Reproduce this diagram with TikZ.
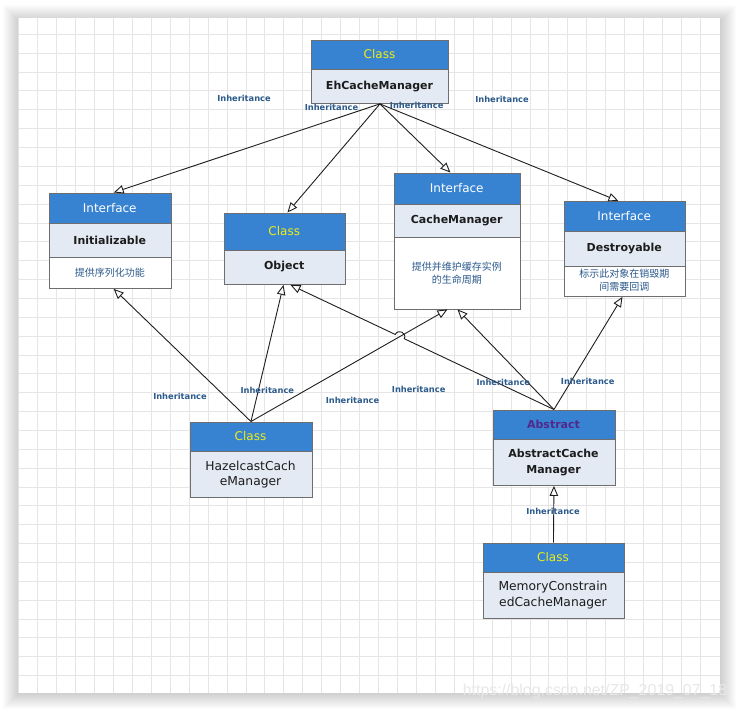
\documentclass[tikz,border=0pt]{standalone}
\usepackage{fontspec}
\setmainfont{DejaVu Sans}
\newfontfamily\cjkf{Noto Sans CJK SC}
\newfontfamily\wmfont{Liberation Sans}
\usetikzlibrary{arrows.meta,calc,intersections}
\definecolor{hdrc}{RGB}{55,131,210}
\definecolor{bodyc}{RGB}{227,234,244}
\definecolor{brdc}{RGB}{110,110,110}
\definecolor{yelc}{RGB}{238,238,20}
\definecolor{purc}{RGB}{82,40,140}
\definecolor{lblc}{RGB}{44,90,140}
\definecolor{txtc}{RGB}{28,28,28}
\definecolor{gridc}{RGB}{229,229,229}
\definecolor{edgec}{RGB}{30,30,30}
\definecolor{wmc}{RGB}{232,232,232}
\begin{document}
\begin{tikzpicture}[x=1pt,y=-1pt,
  boxframe/.style={draw=brdc, line width=0.9pt, inner sep=0pt, anchor=north west},
  sepline/.style={draw=brdc, line width=0.9pt},
  hdrtext/.style={font=\fontsize{12}{14}\selectfont, inner sep=0pt},
  abshdr/.style={font=\bfseries\fontsize{11}{13}\selectfont, text=purc, inner sep=0pt},
  boldname/.style={font=\bfseries\fontsize{11}{13}\selectfont, text=txtc, inner sep=0pt},
  regname/.style={font=\fontsize{12.3}{15}\selectfont, text=txtc, align=center, inner sep=0pt},
  absname/.style={font=\bfseries\fontsize{11}{16}\selectfont, text=txtc, align=center, inner sep=0pt},
  desc/.style={font=\cjkf\fontsize{10}{12.7}\selectfont, text=lblc, align=center, inner sep=0pt},
  lbl/.style={font=\bfseries\fontsize{8.3}{10}\selectfont, text=lblc, inner sep=0pt},
  inh/.style={draw=edgec, line width=0.9pt, -{Triangle[open, length=10pt, width=8.5pt]}},
  gridline/.style={draw=gridc, line width=0.8pt}
]
\useasboundingbox (0,0) rectangle (738,712);
% shadow
\foreach \r in {1,...,16} {
  \fill[black, opacity=0.011] (18.8-\r,17.7-\r+3) rectangle (719.5+\r,692.5+\r);
}
% canvas
\fill[white] (18.8,17.7) rectangle (719.5,692.5);
\foreach \k in {0,...,36} {
  \draw[gridline] (18.8+18.93*\k,17.7) -- (18.8+18.93*\k,692.5);
}
\foreach \k in {0,...,34} {
  \draw[gridline] (18.8,34.3+18.86*\k) -- (719.5,34.3+18.86*\k);
}

% ---- box fills ----
\fill[hdrc] (311,39.5) rectangle (448,69.5);
\fill[bodyc] (311,69.5) rectangle (448,103);
\fill[hdrc] (48.5,192.5) rectangle (171,223.5);
\fill[bodyc] (48.5,223.5) rectangle (171,257);
\fill[white] (48.5,257) rectangle (171,288);
\fill[hdrc] (223.5,212.5) rectangle (345,250);
\fill[bodyc] (223.5,250) rectangle (345,284);
\fill[hdrc] (393.5,172.5) rectangle (520,204.5);
\fill[bodyc] (393.5,204.5) rectangle (520,237);
\fill[white] (393.5,237) rectangle (520,308.5);
\fill[hdrc] (563.5,201) rectangle (685,231);
\fill[bodyc] (563.5,231) rectangle (685,266);
\fill[white] (563.5,266) rectangle (685,296);
\fill[hdrc] (189.5,421.5) rectangle (311.5,451.5);
\fill[bodyc] (189.5,451.5) rectangle (311.5,497);
\fill[hdrc] (492.5,409.5) rectangle (614.5,439.5);
\fill[bodyc] (492.5,439.5) rectangle (614.5,485);
\fill[hdrc] (482.5,542.5) rectangle (623.5,572.5);
\fill[bodyc] (482.5,572.5) rectangle (623.5,617.5);

% ---- separators ----
\draw[sepline] (311,69.5) -- (448,69.5);
\draw[sepline] (48.5,223.5) -- (171,223.5);
\draw[sepline] (48.5,257) -- (171,257);
\draw[sepline] (223.5,250) -- (345,250);
\draw[sepline] (393.5,204.5) -- (520,204.5);
\draw[sepline] (393.5,237) -- (520,237);
\draw[sepline] (563.5,231) -- (685,231);
\draw[sepline] (563.5,266) -- (685,266);
\draw[sepline] (189.5,451.5) -- (311.5,451.5);
\draw[sepline] (492.5,439.5) -- (614.5,439.5);
\draw[sepline] (482.5,572.5) -- (623.5,572.5);

% ---- box frames (named) ----
\node[boxframe, minimum width=137pt, minimum height=63.5pt] (eh) at (311,39.5) {};
\node[boxframe, minimum width=122.5pt, minimum height=95.5pt] (ini) at (48.5,192.5) {};
\node[boxframe, minimum width=121.5pt, minimum height=71.5pt] (obj) at (223.5,212.5) {};
\node[boxframe, minimum width=126.5pt, minimum height=136pt] (cm) at (393.5,172.5) {};
\node[boxframe, minimum width=121.5pt, minimum height=95pt] (des) at (563.5,201) {};
\node[boxframe, minimum width=122pt, minimum height=75.5pt] (haz) at (189.5,421.5) {};
\node[boxframe, minimum width=122pt, minimum height=75.5pt] (abs) at (492.5,409.5) {};
\node[boxframe, minimum width=141pt, minimum height=75pt] (mem) at (482.5,542.5) {};

% ---- texts ----
\node[hdrtext, text=yelc] (ehh) at (379.5,54.5) {Class};
\node[boldname] (ehn) at (379.5,86.25) {EhCacheManager};

\node[hdrtext, text=white] (inih) at (109.75,208) {Interface};
\node[boldname] (inin) at (109.75,240.25) {Initializable};
\node[desc] (inid) at (109.75,272.5) {提供序列化功能};

\node[hdrtext, text=yelc] (objh) at (284.25,231.25) {Class};
\node[boldname] (objn) at (284.25,267) {Object};

\node[hdrtext, text=white] (cmh) at (456.75,188.5) {Interface};
\node[boldname] (cmn) at (456.75,220.75) {CacheManager};
\node[desc] (cmd) at (456.75,273.5) {提供并维护缓存实例\\的生命周期};

\node[hdrtext, text=white] (desh) at (624.25,216) {Interface};
\node[boldname] (desn) at (624.25,248.5) {Destroyable};
\node[desc] (desd) at (624.25,280.5) {标示此对象在销毁期\\间需要回调};

\node[hdrtext, text=yelc] (hazh) at (250.5,436.5) {Class};
\node[regname] (hazn) at (250.5,474.25) {HazelcastCach\\eManager};

\node[abshdr] (absh) at (553.5,424.5) {Abstract};
\node[absname] (absn) at (553.5,462.25) {AbstractCache\\Manager};

\node[hdrtext, text=yelc] (memh) at (553,557.5) {Class};
\node[regname, font=\fontsize{12.3}{16.5}\selectfont] (memn) at (553,595) {MemoryConstrain\\edCacheManager};

% ---- connectors ----
\coordinate (objR) at ([xshift=5.75pt]obj.south);
\coordinate (cmL) at ([xshift=-9.75pt]cm.south);
\draw[inh] (eh.south) -- ([xshift=3.5pt]ini.north);
\draw[inh] (eh.south) -- ([xshift=2.75pt]obj.north);
\draw[inh] (eh.south) -- ([xshift=-6.75pt]cm.north);
\draw[inh] (eh.south) -- ([xshift=-6.25pt]des.north);
\draw[inh] (haz.north) -- ([xshift=3.5pt]ini.south);
\draw[inh] (haz.north) -- ([xshift=-1.25pt]obj.south);
\draw[inh, name path=pb] (haz.north) -- (cmL);
\path[name path=pa] (abs.north) -- (objR);
\path[name intersections={of=pa and pb, by=X}];
\draw[inh] (abs.north) -- ($(X)!5pt!(abs.north)$) to[bend right=90, looseness=1.7] ($(X)!5pt!(objR)$) -- (objR);
\draw[inh] (abs.north) -- ([xshift=0.25pt]cm.south);
\draw[inh] (abs.north) -- ([xshift=-2.25pt]des.south);
\draw[inh] (mem.north) -- (abs.south);

% ---- labels ----
\node[lbl] (l1) at (244,98) {Inheritance};
\node[lbl] (l2) at (331.5,107.3) {Inheritance};
\node[lbl] (l3) at (416.7,105.3) {Inheritance};
\node[lbl] (l4) at (502,99) {Inheritance};
\node[lbl] (l5) at (180,396.5) {Inheritance};
\node[lbl] (l6) at (267.3,390) {Inheritance};
\node[lbl] (l7) at (352.5,400) {Inheritance};
\node[lbl] (l8) at (418.7,389.3) {Inheritance};
\node[lbl] (l9) at (503.3,382.7) {Inheritance};
\node[lbl] (l10) at (587.7,381) {Inheritance};
\node[lbl] (l11) at (553,511) {Inheritance};

% watermark
\node[font=\wmfont\fontsize{15.9}{18}\selectfont, text=wmc, inner sep=0pt] (wm) at (595,691) {https://blog.csdn.net/ZP\_2019\_07\_18};
\end{tikzpicture}
\end{document}
